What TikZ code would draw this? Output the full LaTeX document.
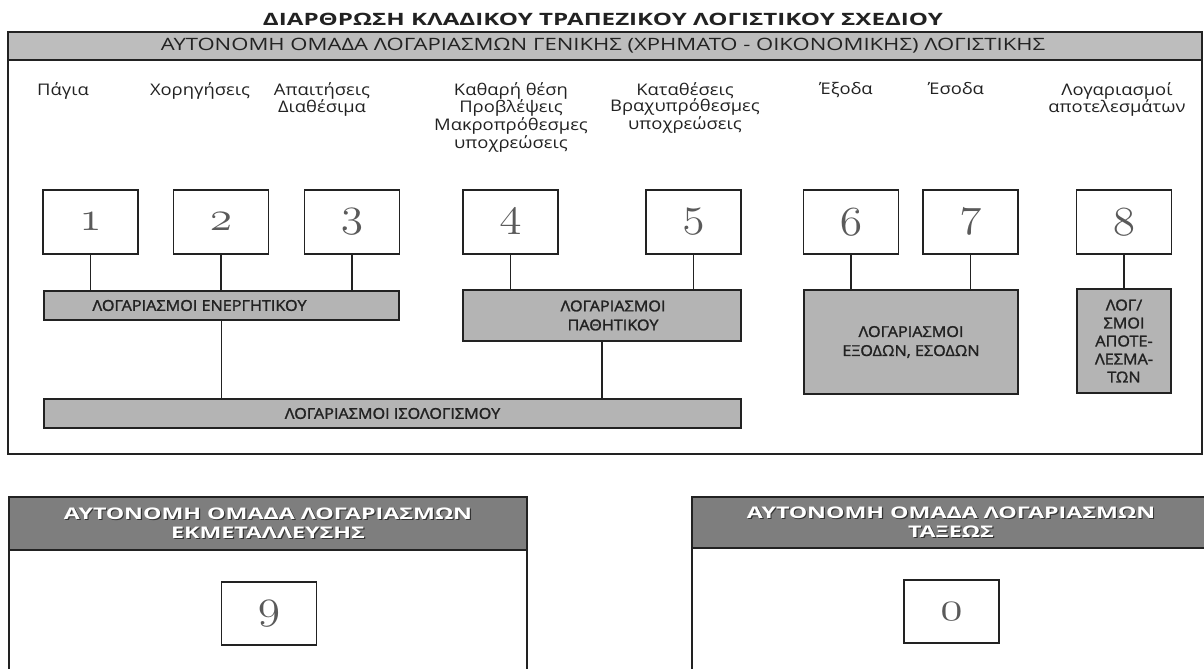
\documentclass[tikz,border=0pt]{standalone}
\usepackage{fontspec}
\setmainfont{Open Sans}
\newfontfamily\barfont[FakeBold=1.5]{Open Sans}
\usepackage{graphicx}
\newcommand\hs[1]{\scalebox{1.15}[1]{#1}}
\newcommand\hb[1]{\scalebox{1.08}[1]{#1}}
\newcommand\hw[1]{\scalebox{1.45}[1]{#1}}
\newcommand\fw[2]{\resizebox{#1bp}{\height}{#2}}
\newcommand\digit[1]{\scalebox{2.2}[2.0]{\fontsize{20bp}{20bp}\usefont{OML}{lmm}{b}{it}#1}}
\definecolor{ink}{HTML}{222222}
\definecolor{barfill}{HTML}{B4B4B4}
\definecolor{hdrlight}{HTML}{BDBDBD}
\definecolor{hdrdark}{HTML}{7E7E7E}
\definecolor{numgray}{HTML}{5A5A5A}
\tikzset{
  frame/.style={draw=ink, line width=2bp},
  numbox/.style={draw=ink, line width=1.6bp, fill=white, minimum width=95bp, minimum height=64bp, inner sep=0pt, text=numgray},
  bar/.style={draw=ink, line width=1.5bp, fill=barfill, inner sep=0pt, align=center, text=ink,
    font=\barfont\fontsize{15bp}{19bp}\selectfont},
  conn/.style={draw=ink, line width=1.5bp},
  lbl/.style={font=\fontsize{16bp}{16.5bp}\selectfont, text=ink, align=center, inner sep=0pt, anchor=north},
  hdrtxt/.style={font=\bfseries\fontsize{16bp}{19bp}\selectfont, align=center, inner sep=0pt},
}
\begin{document}
\begin{tikzpicture}[x=1bp,y=-1bp]
\useasboundingbox (0,0) rectangle (1204,669);
\fill[white] (0,0) rectangle (1204,669);
\begin{scope}
\clip (0,0) rectangle (1204,669);

% title
\node[font=\bfseries\fontsize{17bp}{20bp}\selectfont, text=ink, inner sep=0pt] (title) at (603,19)
  {\fw{680}{ΔΙΑΡΘΡΩΣΗ ΚΛΑΔΙΚΟΥ ΤΡΑΠΕΖΙΚΟΥ ΛΟΓΙΣΤΙΚΟΥ ΣΧΕΔΙΟΥ}};

% top frame
\draw[frame, fill=hdrlight] (8,32) rectangle (1202,60);
\draw[frame] (8,32) rectangle (1202,454);
\node[font=\fontsize{17bp}{20bp}\selectfont, text=ink, inner sep=0pt] (gentitle) at (603,46)
  {\fw{884}{ΑΥΤΟΝΟΜΗ ΟΜΑΔΑ ΛΟΓΑΡΙΑΣΜΩΝ ΓΕΝΙΚΗΣ (ΧΡΗΜΑΤΟ - ΟΙΚΟΝΟΜΙΚΗΣ) ΛΟΓΙΣΤΙΚΗΣ}};

% labels
\node[lbl] (l1) at (63,82) {\hs{Πάγια}};
\node[lbl] (l2) at (200,82) {\hs{Χορηγήσεις}};
\node[lbl] (l3) at (322,82) {\hs{Απαιτήσεις}\\\hs{Διαθέσιμα}};
\node[lbl] (l4) at (511,82) {\hs{Καθαρή θέση}\\\hs{Προβλέψεις}\\\hs{Μακροπρόθεσμες}\\\hs{υποχρεώσεις}};
\node[lbl] (l5) at (685,82) {\hs{Καταθέσεις}\\\hs{Βραχυπρόθεσμες}\\\hs{υποχρεώσεις}};
\node[lbl] (l6) at (846,82) {\hs{Έξοδα}};
\node[lbl] (l7) at (956,82) {\hs{Έσοδα}};
\node[lbl] (l8) at (1117,82) {\hs{Λογαριασμοί}\\\hs{αποτελεσμάτων}};

% numbered boxes
\node[numbox] (b1) at (90.5,222) {\digit{1}};
\node[numbox] (b2) at (221,222) {\digit{2}};
\node[numbox] (b3) at (352,222) {\digit{3}};
\node[numbox] (b4) at (510.5,222) {\digit{4}};
\node[numbox] (b5) at (693.5,222) {\digit{5}};
\node[numbox] (b6) at (851,222) {\digit{6}};
\node[numbox] (b7) at (970.5,222) {\digit{7}};
\node[numbox] (b8) at (1124,222) {\digit{8}};

% group bars
\node[bar, minimum width=355bp, minimum height=29bp] (ener) at (221.5,305.5) {\hb{ΛΟΓΑΡΙΑΣΜΟΙ ΕΝΕΡΓΗΤΙΚΟΥ}\hspace{44bp}};
\node[bar, minimum width=278bp, minimum height=51bp] (path) at (602,315.5) {\hspace{22bp}\hb{ΛΟΓΑΡΙΑΣΜΟΙ}\\\hspace{22bp}\hb{ΠΑΘΗΤΙΚΟΥ}};
\node[bar, minimum width=214bp, minimum height=104bp] (exod) at (911,342) {\hb{ΛΟΓΑΡΙΑΣΜΟΙ}\\\hb{ΕΞΟΔΩΝ, ΕΣΟΔΩΝ}};
\node[bar, minimum width=94bp, minimum height=104bp, font=\barfont\fontsize{15bp}{18bp}\selectfont] (apot) at (1124,341) {\hb{ΛΟΓ/}\\\hb{ΣΜΟΙ}\\\hb{ΑΠΟΤΕ-}\\\hb{ΛΕΣΜΑ-}\\\hb{ΤΩΝ}};
\node[bar, minimum width=697bp, minimum height=29bp] (isol) at (392.5,413.5) {\hb{ΛΟΓΑΡΙΑΣΜΟΙ ΙΣΟΛΟΓΙΣΜΟΥ}};

% connectors
\draw[conn] (b1.south) -- (ener.north -| b1.south);
\draw[conn] (b2.south) -- (ener.north -| b2.south);
\draw[conn] (b3.south) -- (ener.north -| b3.south);
\draw[conn] (b4.south) -- (path.north -| b4.south);
\draw[conn] (b5.south) -- (path.north -| b5.south);
\draw[conn] (b6.south) -- (exod.north -| b6.south);
\draw[conn] (b7.south) -- (exod.north -| b7.south);
\draw[conn] (b8.south) -- (apot.north);
\draw[conn] (ener.south) -- (isol.north -| ener.south);
\draw[conn] (path.south) -- (isol.north -| path.south);

% lower left frame
\draw[frame, fill=hdrdark] (9,497) rectangle (527,550);
\draw[frame] (9,497) rectangle (527,700);
\node[hdrtxt, text=black!80] (h9s) at (269.2,524.2) {\hw{ΑΥΤΟΝΟΜΗ ΟΜΑΔΑ ΛΟΓΑΡΙΑΣΜΩΝ}\\\hw{ΕΚΜΕΤΑΛΛΕΥΣΗΣ}};
\node[hdrtxt, text=white] (h9) at (268,523) {\hw{ΑΥΤΟΝΟΜΗ ΟΜΑΔΑ ΛΟΓΑΡΙΑΣΜΩΝ}\\\hw{ΕΚΜΕΤΑΛΛΕΥΣΗΣ}};
\node[numbox, minimum height=63bp] (b9) at (269,613.5) {\digit{9}};

% lower right frame
\draw[frame, fill=hdrdark] (692,497) rectangle (1215,548);
\draw[frame] (692,497) rectangle (1215,700);
\node[hdrtxt, text=black!80] (h0s) at (952.2,523.2) {\hw{ΑΥΤΟΝΟΜΗ ΟΜΑΔΑ ΛΟΓΑΡΙΑΣΜΩΝ}\\\hw{ΤΑΞΕΩΣ}};
\node[hdrtxt, text=white] (h0) at (951,522) {\hw{ΑΥΤΟΝΟΜΗ ΟΜΑΔΑ ΛΟΓΑΡΙΑΣΜΩΝ}\\\hw{ΤΑΞΕΩΣ}};
\node[numbox, minimum height=63bp] (b0) at (951.5,611.5) {\digit{0}};
\end{scope}
\end{tikzpicture}
\end{document}
